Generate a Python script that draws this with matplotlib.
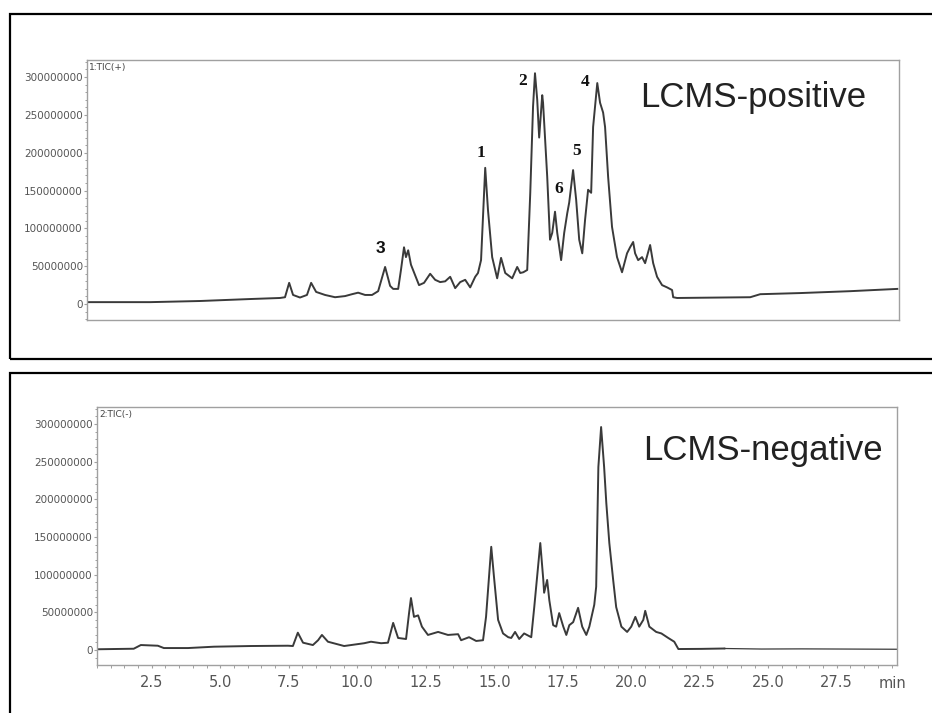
import matplotlib
matplotlib.use("Agg")
import matplotlib.pyplot as plt
from matplotlib.patches import Rectangle
from matplotlib.ticker import MultipleLocator, FixedLocator
import numpy as np

# ---------------- data (retention time in min, intensity in millions) -------------
pos_time = [0.50, 2.77, 4.56, 6.36, 7.44, 7.62, 7.77, 7.91, 8.16, 8.41, 8.56, 8.74,
            9.06, 9.42, 9.78, 10.03, 10.25, 10.50, 10.75, 10.97, 11.22, 11.40, 11.51,
            11.69, 11.79, 11.90, 11.97, 12.05, 12.15, 12.30, 12.44, 12.62, 12.84,
            13.02, 13.20, 13.38, 13.56, 13.74, 13.92, 14.10, 14.28, 14.46, 14.56,
            14.67, 14.82, 14.92, 15.07, 15.25, 15.39, 15.54, 15.79, 15.97, 16.08,
            16.19, 16.33, 16.44, 16.54, 16.61, 16.69, 16.76, 16.87, 16.90, 17.05,
            17.15, 17.23, 17.33, 17.41, 17.55, 17.66, 17.77, 17.84, 17.98, 18.09,
            18.20, 18.31, 18.41, 18.52, 18.63, 18.70, 18.85, 18.95, 19.06, 19.13,
            19.24, 19.38, 19.56, 19.74, 19.92, 20.03, 20.14, 20.21, 20.32, 20.46,
            20.57, 20.75, 20.86, 21.00, 21.18, 21.36, 21.54, 21.58, 21.72, 24.35,
            24.71, 26.15, 27.95, 29.64]
pos_int = [2.5, 2.5, 4, 6.6, 8, 9, 28, 12, 8.6, 12, 28, 16,
           12, 9, 10.5, 13, 15, 12, 12, 17, 49, 24, 20,
           20, 45, 75, 62, 71, 52, 38, 25, 28, 40,
           32, 29, 30, 36, 21, 29, 32, 22, 36, 41,
           58, 180, 124, 62, 34, 61, 41, 34, 49, 41,
           42, 45, 147, 261, 305, 270, 220, 276, 266, 168,
           85, 94, 122, 94, 58, 94, 120, 134, 177, 138,
           85, 67, 111, 151, 147, 234, 292, 266, 253, 234,
           168, 102, 62, 42, 67, 75, 82, 67, 58, 62,
           54, 78, 54, 36, 25, 22, 18.5, 9, 8, 9,
           13, 14.5, 17, 20]

neg_time = [0.53, 1.84, 2.10, 2.72, 2.94, 3.82, 4.77, 6.12, 7.47, 7.65, 7.83, 8.02,
            8.38, 8.57, 8.71, 8.93, 9.52, 10.25, 10.50, 10.87, 11.12, 11.31, 11.49,
            11.78, 11.89, 11.96, 12.07, 12.22, 12.36, 12.58, 12.95, 13.31, 13.68,
            13.79, 14.08, 14.34, 14.59, 14.70, 14.89, 14.99, 15.14, 15.32, 15.51,
            15.62, 15.76, 15.91, 16.09, 16.35, 16.46, 16.68, 16.79, 16.82, 16.93,
            17.01, 17.15, 17.26, 17.37, 17.52, 17.63, 17.74, 17.88, 18.06, 18.21,
            18.36, 18.47, 18.65, 18.72, 18.80, 18.90, 19.01, 19.09, 19.20, 19.34,
            19.45, 19.64, 19.85, 20.00, 20.15, 20.29, 20.44, 20.51, 20.66, 20.91,
            21.10, 21.35, 21.57, 21.72, 22.56, 23.40]
neg_int = [1, 1.7, 6.6, 5.7, 2.6, 2.6, 4.4, 5.3, 5.7, 5.3, 23, 9.7,
           6.6, 13, 20, 11, 5.3, 9, 11, 9, 9.7, 36, 16,
           14.6, 49, 69, 44, 46, 31, 20, 24, 20, 21,
           13, 17, 12, 13, 44, 137, 97, 40, 22, 17,
           16, 24, 14.6, 22, 17, 57, 142, 93, 76, 93,
           66, 33, 31, 49, 31, 20, 33, 37, 56, 31,
           20, 31, 60, 84, 243, 296, 243, 195, 142, 93,
           57, 31, 24, 31, 44, 31, 40, 52, 31, 24,
           22, 16, 11, 1.3, 1.5, 2]
neg_tail_time = [23.40, 24.75, 26.20, 29.76]
neg_tail_int = [2, 1.3, 1.5, 1]

y_ticks = [0, 50000000, 100000000, 150000000, 200000000, 250000000, 300000000]
x_ticks = [2.5, 5.0, 7.5, 10.0, 12.5, 15.0, 17.5, 20.0, 22.5, 25.0, 27.5]

peak_labels = ["1", "2", "3", "4", "5", "6"]
peak_label_t = [14.65, 16.16, 11.06, 18.42, 18.10, 17.45]
peak_label_i = [200, 295, 73, 294, 202, 152]

# ---------------- figure -------------
W, H = 932, 713
fig = plt.figure(figsize=(W / 100, H / 100), dpi=100)
fig.patch.set_facecolor("white")

def fx(px):
    return px / W

def fy(py):
    return (H - py) / H

# outer frames
fig.patches.append(Rectangle((fx(10), fy(359)), 1.2, fy(14) - fy(359), transform=fig.transFigure,
                             fill=False, edgecolor="black", lw=1.6, clip_on=False))
fig.patches.append(Rectangle((fx(10), -0.2), 1.2, fy(373) + 0.2, transform=fig.transFigure,
                             fill=False, edgecolor="black", lw=1.6, clip_on=False))

ax1 = fig.add_axes([fx(87), fy(320), fx(899) - fx(87), fy(60) - fy(320)])
ax2 = fig.add_axes([fx(97), fy(665), fx(897) - fx(97), fy(407) - fy(665)])

line_col = "#3a3a3a"
spine_col = "#a0a0a0"
tick_col = "#555555"

xlim = (0.5, 29.7)

for ax in (ax1, ax2):
    ax.set_xlim(*xlim)
    for s in ax.spines.values():
        s.set_color(spine_col)
        s.set_linewidth(1.0)
    ax.yaxis.set_major_locator(FixedLocator(y_ticks))
    ax.yaxis.set_minor_locator(MultipleLocator(10000000))
    ax.tick_params(axis="y", which="major", length=2, width=0.8, color=spine_col,
                   labelsize=7.5, labelcolor=tick_col, pad=1)
    ax.tick_params(axis="y", which="minor", length=1.5, width=0.7, color=spine_col)
    ax.set_yticklabels([str(v) for v in y_ticks])

ax1.set_ylim(-21.1e6, 322.5e6)
ax2.set_ylim(-19.9e6, 322.6e6)

ax1.plot(np.array(pos_time), np.array(pos_int) * 1e6, color=line_col, lw=1.4)
ax2.plot(np.array(neg_time), np.array(neg_int) * 1e6, color=line_col, lw=1.4)
ax2.plot(np.array(neg_tail_time), np.array(neg_tail_int) * 1e6, color=line_col, lw=0.9)

ax1.set_xticks([])
ax2.xaxis.set_major_locator(FixedLocator(x_ticks))
ax2.xaxis.set_minor_locator(MultipleLocator(0.5))
ax2.set_xticklabels([f"{v:.1f}" for v in x_ticks])
ax2.tick_params(axis="x", which="major", length=2.5, width=0.8, color=spine_col,
                labelsize=10.5, labelcolor=tick_col, pad=5)
ax2.tick_params(axis="x", which="minor", length=1.8, width=0.7, color=spine_col)

# small trace titles
ax1.text(0.003, 0.99, "1:TIC(+)", transform=ax1.transAxes, ha="left", va="top",
         fontsize=6.5, color="#444444")
ax2.text(0.003, 0.99, "2:TIC(-)", transform=ax2.transAxes, ha="left", va="top",
         fontsize=6.5, color="#444444")

# mode labels
fig.text(fx(640), fy(107), "LCMS-positive", family="Liberation Sans", fontsize=25,
         color="#222222", ha="left", va="baseline")
fig.text(fx(643), fy(460), "LCMS-negative", family="Liberation Sans", fontsize=25,
         color="#222222", ha="left", va="baseline")

fig.text(fx(893), fy(683), "min", fontsize=10.5, color=tick_col, ha="center", va="center")

# peak number labels
for lab, t, i in zip(peak_labels, peak_label_t, peak_label_i):
    if lab == "3":
        ax1.text(t, i * 1e6, lab, family="Liberation Sans", fontweight="bold",
                 fontsize=12.5, ha="center", va="center", color="#111111")
    else:
        ax1.text(t, i * 1e6, lab, family="Liberation Serif", fontweight="bold",
                 fontsize=12.5, ha="center", va="center", color="#111111")

fig.savefig("out.png", dpi=100, facecolor="white")
